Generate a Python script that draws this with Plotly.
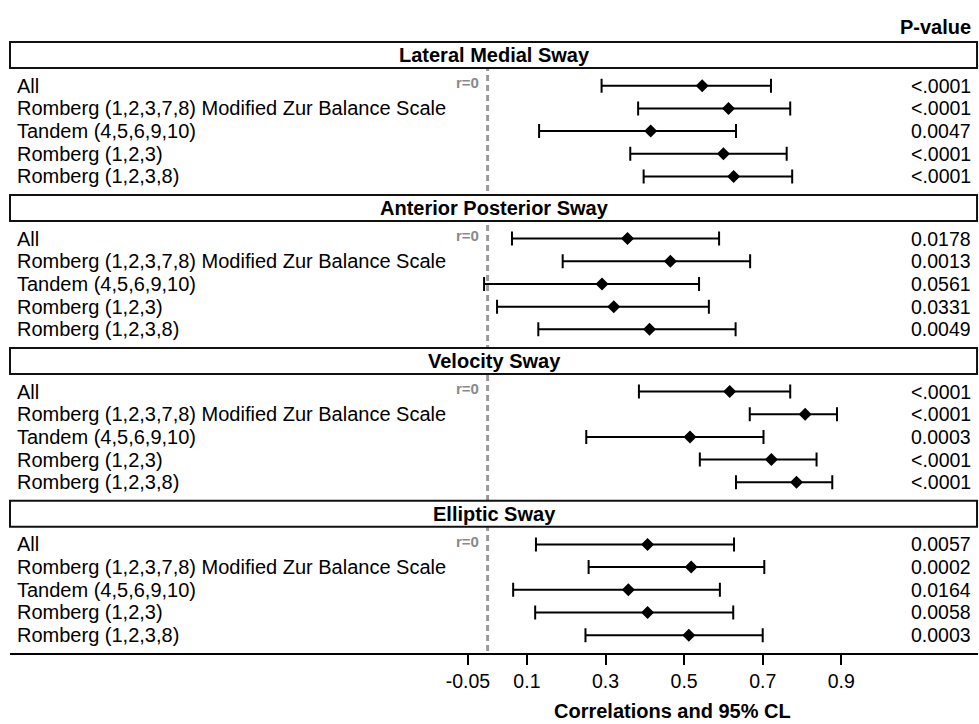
import plotly.graph_objects as go

groups = ["Lateral Medial Sway", "Anterior Posterior Sway", "Velocity Sway", "Elliptic Sway"]
tests = ["All", "Romberg (1,2,3,7,8) Modified Zur Balance Scale", "Tandem (4,5,6,9,10)",
         "Romberg (1,2,3)", "Romberg (1,2,3,8)"]

est_lateral = [0.546, 0.613, 0.415, 0.600, 0.626]
lo_lateral = [0.290, 0.383, 0.131, 0.363, 0.397]
hi_lateral = [0.721, 0.770, 0.632, 0.761, 0.775]
p_lateral = ["<.0001", "<.0001", "0.0047", "<.0001", "<.0001"]

est_anterior = [0.356, 0.465, 0.291, 0.321, 0.412]
lo_anterior = [0.062, 0.191, -0.009, 0.024, 0.129]
hi_anterior = [0.589, 0.668, 0.538, 0.563, 0.631]
p_anterior = ["0.0178", "0.0013", "0.0561", "0.0331", "0.0049"]

est_velocity = [0.616, 0.808, 0.515, 0.722, 0.786]
lo_velocity = [0.385, 0.667, 0.251, 0.540, 0.632]
hi_velocity = [0.770, 0.889, 0.702, 0.837, 0.877]
p_velocity = ["<.0001", "<.0001", "0.0003", "<.0001", "<.0001"]

est_elliptic = [0.407, 0.518, 0.358, 0.407, 0.512]
lo_elliptic = [0.123, 0.257, 0.065, 0.121, 0.249]
hi_elliptic = [0.627, 0.704, 0.591, 0.625, 0.700]
p_elliptic = ["0.0057", "0.0002", "0.0164", "0.0058", "0.0003"]

tick_vals = [-0.05, 0.1, 0.3, 0.5, 0.7, 0.9]
tick_text = ["-0.05", "0.1", "0.3", "0.5", "0.7", "0.9"]

estimates = [est_lateral, est_anterior, est_velocity, est_elliptic]
lowers = [lo_lateral, lo_anterior, lo_velocity, lo_elliptic]
uppers = [hi_lateral, hi_anterior, hi_velocity, hi_elliptic]
pvals = [p_lateral, p_anterior, p_velocity, p_elliptic]

# layout geometry (row units)
BLOCK = 6.742
HDR_OFF = 1.35
HDR_HALF = 0.573
FONT = "Arial, Liberation Sans, sans-serif"

fig = go.Figure()
annotations = []
shapes = []

# reference line r=0
shapes.append(dict(type="line", xref="x", yref="y", x0=0, x1=0,
                   y0=-HDR_OFF, y1=25.2, layer="above",
                   line=dict(color="#9a9a9a", width=3, dash="6px,4px")))

for k, g in enumerate(groups):
    ys = [k * BLOCK + i for i in range(len(tests))]
    est = estimates[k]
    lo = lowers[k]
    hi = uppers[k]
    fig.add_trace(go.Scatter(
        x=est, y=ys, mode="markers",
        marker=dict(symbol="diamond", size=10, color="black"),
        error_x=dict(type="data", symmetric=False,
                     array=[h - e for h, e in zip(hi, est)],
                     arrayminus=[e - l for e, l in zip(est, lo)],
                     color="black", thickness=2, width=7),
        showlegend=False, hoverinfo="skip"))
    hc = k * BLOCK - HDR_OFF
    shapes.append(dict(type="rect", xref="paper", yref="y", x0=0, x1=0.999,
                       y0=hc - HDR_HALF, y1=hc + HDR_HALF, layer="above",
                       fillcolor="white", line=dict(color="#111111", width=2)))
    annotations.append(dict(x=0.5, y=hc, xref="paper", yref="y", text="<b>%s</b>" % g,
                            showarrow=False, xanchor="center", yanchor="middle",
                            font=dict(family=FONT, size=20, color="black")))
    annotations.append(dict(x=-0.016, y=ys[0] - 0.15, xref="x", yref="y", text="<b>r=0</b>",
                            showarrow=False, xanchor="right", yanchor="middle",
                            font=dict(family=FONT, size=15, color="#8a8a8a")))
    for i, t in enumerate(tests):
        annotations.append(dict(x=0.0052, y=ys[i], xref="paper", yref="y", text=t,
                                showarrow=False, xanchor="left", yanchor="middle",
                                font=dict(family=FONT, size=20, color="black")))
        annotations.append(dict(x=0.9948, y=ys[i], xref="paper", yref="y", text=pvals[k][i],
                                showarrow=False, xanchor="right", yanchor="middle",
                                font=dict(family=FONT, size=19.5, color="black")))

annotations.append(dict(x=0.9948, y=-2.59, xref="paper", yref="y", text="<b>P-value</b>",
                        showarrow=False, xanchor="right", yanchor="middle",
                        font=dict(family=FONT, size=20, color="black")))
annotations.append(dict(x=0.47, y=-0.1087, xref="x", yref="paper",
                        text="<b>Correlations and 95% CL</b>",
                        showarrow=False, xanchor="center", yanchor="bottom",
                        font=dict(family=FONT, size=20, color="black")))

fig.update_layout(
    width=979, height=724,
    margin=dict(l=10, r=1, t=0, b=71),
    paper_bgcolor="white", plot_bgcolor="white",
    shapes=shapes, annotations=annotations,
    xaxis=dict(range=[-1.2153, 1.2478], tickvals=tick_vals, ticktext=tick_text,
               showgrid=False, zeroline=False, showline=True, linecolor="black", linewidth=2,
               ticks="outside", ticklen=10, tickwidth=2, tickcolor="black",
               tickfont=dict(family=FONT, size=19.5, color="black")),
    yaxis=dict(range=[25.013, -3.779], visible=False, showgrid=False, zeroline=False),
)

fig.write_html("out.html", config={"displayModeBar": False},
               post_script="document.body.style.margin='0';document.body.style.overflow='hidden';")
